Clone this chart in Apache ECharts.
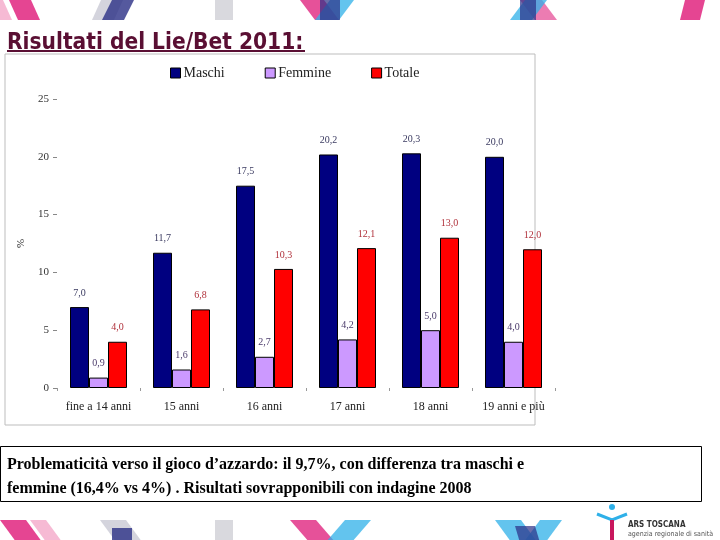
<!DOCTYPE html>
<html>
<head>
<meta charset="utf-8">
<script src="https://cdn.jsdelivr.net/npm/echarts@6/dist/echarts.min.js"></script>
<style>
  html, body { margin: 0; padding: 0; background: #fff; }
  #main { width: 720px; height: 540px; }
</style>
</head>
<body>
<div id="main"></div>
<script>
// dati Lie/Bet 2011
const categorie = ['fine a 14 anni', '15 anni', '16 anni', '17 anni', '18 anni', '19 anni e più'];
const maschi = [7.0, 11.7, 17.5, 20.2, 20.3, 20.0];
const femmine = [0.9, 1.6, 2.7, 4.2, 5.0, 4.0];
const totale = [4.0, 6.8, 10.3, 12.1, 13.0, 12.0];
const yTicks = [0, 5, 10, 15, 20, 25];

const chart = echarts.init(document.getElementById('main'));

const serif = '"Liberation Serif", "DejaVu Serif", serif';
const virgola = p => p.value.toFixed(1).replace('.', ',');

// strisce decorative della slide (banda alta e bassa)
function banda(x, y, w, h, skew, color, op) {
  return {
    type: 'polygon',
    silent: true,
    z: -10,
    shape: { points: [[x, y], [x + w, y], [x + w + skew, y + h], [x + skew, y + h]] },
    style: { fill: color, opacity: op }
  };
}
const deco = [
  // sopra
  banda(0, -20, 22, 40, 18, '#e0257f', 0.85),
  banda(-20, -20, 14, 40, 18, '#f08cb8', 0.6),
  banda(110, -20, 22, 40, -18, '#c9c9d4', 0.8),
  banda(112, 0, 22, 20, -10, '#2b2f86', 0.8),
  banda(215, -20, 18, 40, 0, '#cfcfd6', 0.8),
  banda(285, -20, 24, 40, 30, '#e0257f', 0.8),
  banda(345, -20, 24, 40, -30, '#2fb0e8', 0.75),
  banda(320, 0, 20, 20, 0, '#2b2f86', 0.7),
  banda(505, -20, 22, 40, 30, '#e0257f', 0.6),
  banda(540, -20, 22, 40, -30, '#2fb0e8', 0.75),
  banda(520, 0, 16, 20, 0, '#2b2f86', 0.7),
  banda(690, -20, 20, 40, -10, '#e0257f', 0.85),
  // sotto
  banda(0, 520, 26, 30, 22, '#e0257f', 0.85),
  banda(30, 520, 16, 30, 22, '#f08cb8', 0.6),
  banda(100, 520, 26, 30, 22, '#c9c9d4', 0.8),
  banda(112, 528, 20, 20, 0, '#2b2f86', 0.8),
  banda(215, 520, 18, 30, 0, '#cfcfd6', 0.8),
  banda(290, 520, 26, 30, 26, '#e0257f', 0.8),
  banda(345, 520, 26, 30, -26, '#2fb0e8', 0.75),
  banda(495, 520, 26, 30, 22, '#2fb0e8', 0.75),
  banda(540, 520, 22, 30, -22, '#2fb0e8', 0.75),
  banda(515, 526, 20, 20, 6, '#2b2f86', 0.7)
];

chart.setOption({
  backgroundColor: '#ffffff',
  animation: false,
  textStyle: { fontFamily: serif },
  title: {
    text: 'Risultati del Lie/Bet 2011:',
    left: 2,
    top: 27,
    textStyle: {
      fontFamily: '"DejaVu Sans Condensed", "DejaVu Sans", sans-serif',
      fontWeight: 'bold',
      fontSize: 22.5,
      color: '#5a0f33'
    }
  },
  legend: {
    top: 61,
    left: 165,
    itemWidth: 10,
    itemHeight: 10,
    itemGap: 40,
    icon: 'rect',
    textStyle: { fontFamily: serif, fontSize: 14, color: '#222', padding: [0, 0, 0, -2] },
    data: [
      { name: 'Maschi', itemStyle: { borderColor: '#000', borderWidth: 1 } },
      { name: 'Femmine', itemStyle: { borderColor: '#000', borderWidth: 1 } },
      { name: 'Totale', itemStyle: { borderColor: '#000', borderWidth: 1 } }
    ]
  },
  grid: { left: 57, right: 165, top: 99, bottom: 152 },
  xAxis: {
    type: 'category',
    data: categorie,
    axisLine: { show: false },
    axisTick: { show: true, length: 3, lineStyle: { color: '#999' } },
    axisLabel: { fontFamily: serif, fontSize: 12, color: '#222', margin: 13, interval: 0 }
  },
  yAxis: {
    type: 'value',
    min: 0,
    max: 25,
    interval: 5,
    name: '%',
    nameLocation: 'middle',
    nameGap: 29,
    nameRotate: 90,
    nameTextStyle: { fontFamily: serif, fontSize: 11, color: '#222' },
    axisLine: { show: false },
    axisTick: { show: true, length: 4, lineStyle: { color: '#888' } },
    splitLine: { show: false },
    axisLabel: {
      fontFamily: serif, fontSize: 11, color: '#333', margin: 8,
      formatter: v => (yTicks.includes(v) ? String(v) : '')
    }
  },
  series: [
    {
      name: 'Maschi',
      type: 'bar',
      data: maschi,
      barWidth: 19,
      barGap: '0%',
      itemStyle: { color: '#000080', borderColor: '#000', borderWidth: 1 },
      label: { show: true, position: 'top', distance: 9, formatter: virgola,
        fontFamily: serif, fontSize: 10, color: '#3a3a60' }
    },
    {
      name: 'Femmine',
      type: 'bar',
      data: femmine,
      barWidth: 19,
      barGap: '0%',
      itemStyle: { color: '#cc99ff', borderColor: '#000', borderWidth: 1 },
      label: { show: true, position: 'top', distance: 9, formatter: virgola,
        fontFamily: serif, fontSize: 10, color: '#4a3a6a' }
    },
    {
      name: 'Totale',
      type: 'bar',
      data: totale,
      barWidth: 19,
      barGap: '0%',
      itemStyle: { color: '#ff0000', borderColor: '#000', borderWidth: 1 },
      label: { show: true, position: 'top', distance: 9, formatter: virgola,
        fontFamily: serif, fontSize: 10, color: '#b0303a' }
    }
  ],
  graphic: deco.concat([
    // sottolineatura titolo
    { type: 'rect', silent: true, shape: { x: 7, y: 50, width: 298, height: 2 },
      style: { fill: '#5a0f33' } },
    // cornice del grafico
    { type: 'rect', silent: true, z: -5, shape: { x: 5, y: 54, width: 530, height: 371 },
      style: { fill: 'none', stroke: '#bdbdbd', lineWidth: 1 } },
    // riquadro del commento
    { type: 'rect', silent: true, shape: { x: 0.5, y: 446.5, width: 701, height: 55 },
      style: { fill: '#fff', stroke: '#000', lineWidth: 1 } },
    { type: 'text', silent: true, left: 7, top: 453,
      style: {
        text: 'Problematicità verso il gioco d’azzardo: il 9,7%, con differenza tra maschi e\nfemmine (16,4% vs 4%) . Risultati sovrapponibili con indagine 2008',
        font: 'bold 16px "Liberation Serif", serif',
        fill: '#000',
        lineHeight: 24
      } },
    // logo ARS Toscana
    { type: 'circle', silent: true, shape: { cx: 612, cy: 507, r: 3 }, style: { fill: '#2fb0e8' } },
    { type: 'polyline', silent: true, shape: { points: [[597, 514], [612, 520], [627, 514]] },
      style: { stroke: '#2fb0e8', lineWidth: 3, fill: 'none' } },
    { type: 'rect', silent: true, shape: { x: 610, y: 520, width: 4, height: 20 },
      style: { fill: '#c8175d' } },
    { type: 'text', silent: true, left: 628, top: 521,
      style: { text: 'ARS TOSCANA', font: 'bold 8px "DejaVu Sans Condensed", sans-serif', fill: '#333' } },
    { type: 'text', silent: true, left: 628, top: 531,
      style: { text: 'agenzia regionale di sanità', font: '7px "DejaVu Sans Condensed", sans-serif', fill: '#555' } }
  ])
});
</script>
</body>
</html>
